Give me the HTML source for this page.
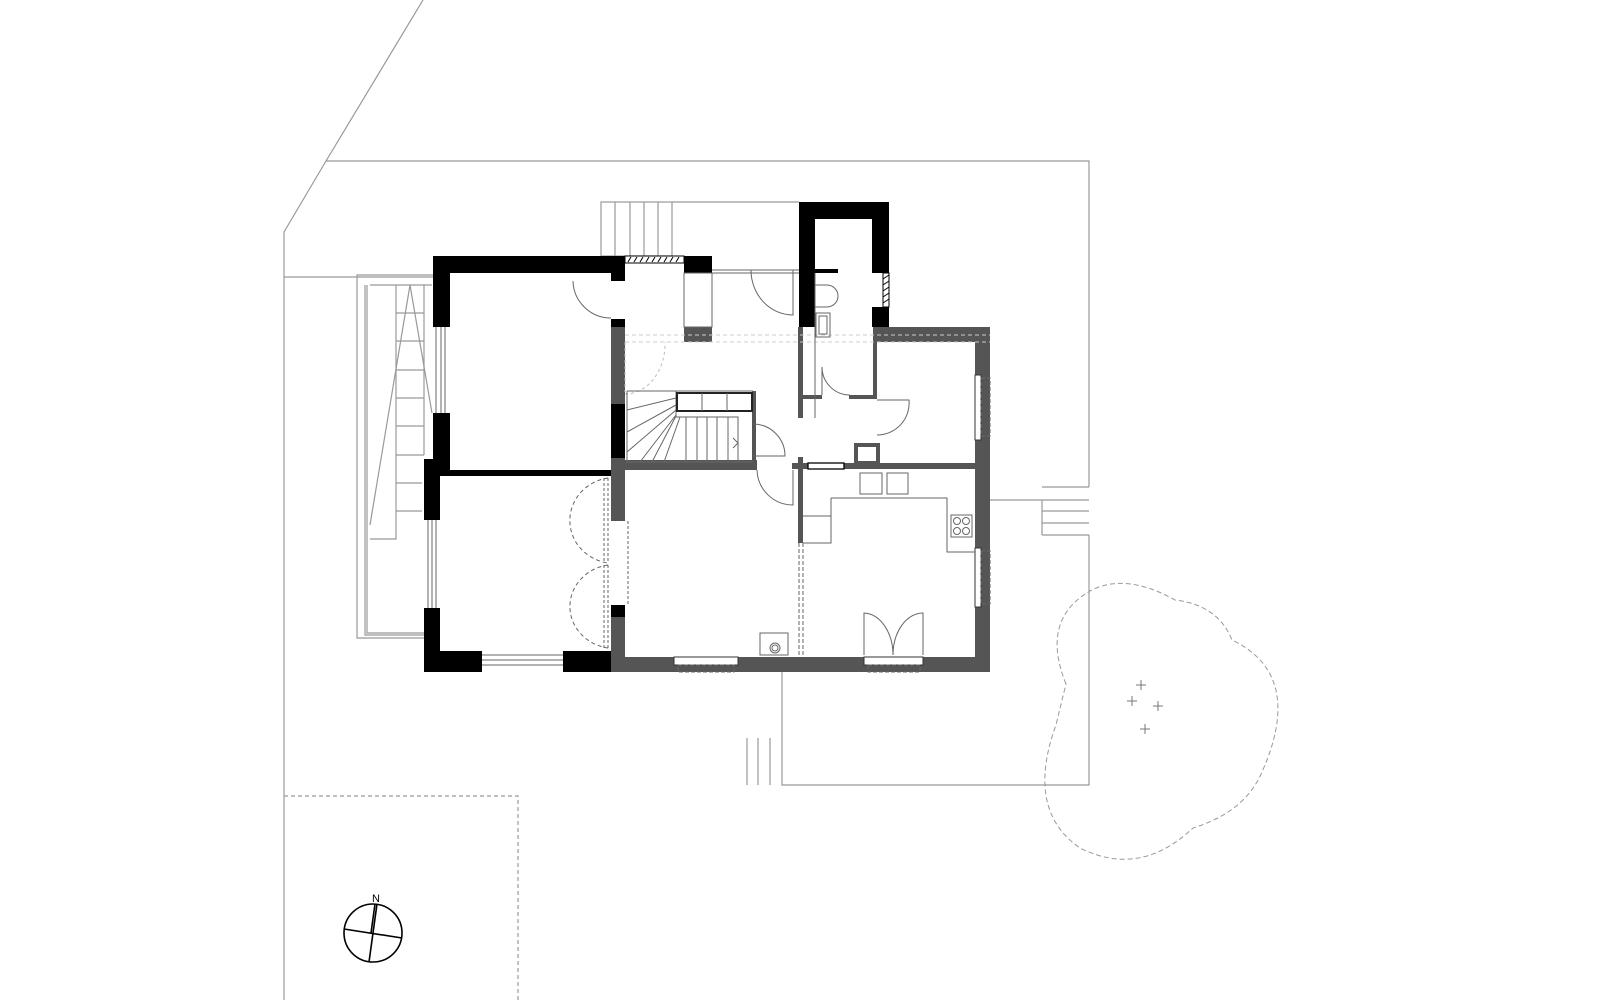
<!DOCTYPE html>
<html><head><meta charset="utf-8"><style>html,body{margin:0;padding:0;background:#fff}svg{display:block}</style></head>
<body>
<svg width="1600" height="1000" viewBox="0 0 1600 1000" xmlns="http://www.w3.org/2000/svg">
<rect width="1600" height="1000" fill="#fff"/>
<g fill="none" stroke="#999" stroke-width="1.2">
<polyline points="423,0 326,161 284,232 284,1000"/>
<polyline points="326,161 1089,161 1089,487"/>
<polyline points="1089,535 1089,785 782,785 782,672"/>
<line x1="284" y1="277" x2="433" y2="277"/>
<line x1="1042" y1="487" x2="1089" y2="487"/>
<line x1="1042" y1="500" x2="1089" y2="500"/>
<line x1="1042" y1="511" x2="1089" y2="511"/>
<line x1="1042" y1="523" x2="1089" y2="523"/>
<line x1="1042" y1="535" x2="1089" y2="535"/>
<line x1="1042" y1="500" x2="1042" y2="535"/>
<line x1="990" y1="500" x2="1042" y2="500"/>
<line x1="747" y1="738" x2="747" y2="785"/>
<line x1="758" y1="738" x2="758" y2="785"/>
<line x1="770" y1="738" x2="770" y2="785"/>
<polyline points="284,796 518,796 518,1000" stroke-dasharray="4,3"/>
<rect x="601" y="202" width="71" height="54"/>
<line x1="615" y1="202" x2="615" y2="256"/><line x1="630" y1="202" x2="630" y2="256"/>
<line x1="644" y1="202" x2="644" y2="256"/><line x1="658" y1="202" x2="658" y2="256"/>
<line x1="672" y1="202" x2="799" y2="202"/>
<polyline points="433,275 357,275 357,638 424,638"/>
<polyline points="424,635 365,635 365,285"/>
<polyline points="367,285 367,633 424,633"/>
<line x1="370" y1="285" x2="432" y2="285"/>
<polyline points="396,285 396,539 370,539"/>
<line x1="424" y1="285" x2="424" y2="455"/>
<line x1="396" y1="313" x2="424" y2="313"/><line x1="396" y1="341" x2="424" y2="341"/>
<line x1="396" y1="370" x2="424" y2="370"/><line x1="396" y1="398" x2="424" y2="398"/>
<line x1="396" y1="426" x2="424" y2="426"/><line x1="396" y1="455" x2="424" y2="455"/>
<line x1="396" y1="483" x2="422" y2="483"/><line x1="396" y1="511" x2="422" y2="511"/>
<line x1="410" y1="285" x2="370" y2="525"/><line x1="410" y1="285" x2="432" y2="413"/>
</g>
<path d="M1066,684 Q1040,620 1090,591 Q1125,572 1175,600 Q1218,605 1232,640 Q1305,675 1262,772 Q1245,812 1193,828 Q1140,878 1080,848 Q1025,810 1056,725 Q1062,700 1066,684 Z" fill="none" stroke="#999" stroke-width="1" stroke-dasharray="5,3"/>
<g stroke="#777" stroke-width="1">
<path d="M1136,685h10M1141,680v10M1127,701h10M1132,696v10M1153,706h10M1158,701v10M1140,729h10M1145,724v10"/>
</g>
<g fill="#000">
<rect x="433" y="256" width="192" height="17"/>
<rect x="433" y="256" width="17" height="71"/>
<rect x="433" y="413" width="17" height="62"/>
<rect x="424" y="459" width="16" height="61"/>
<rect x="424" y="608" width="16" height="64"/>
<rect x="424" y="651" width="58" height="21"/>
<rect x="563" y="651" width="48" height="21"/>
<rect x="440" y="470" width="171" height="6"/>
<rect x="611" y="273" width="14" height="8"/>
<rect x="611" y="319" width="14" height="8"/>
<rect x="684" y="256" width="28" height="17"/>
<rect x="611" y="404" width="14" height="54"/>
<rect x="611" y="605" width="14" height="12"/>
<rect x="799" y="202" width="90" height="17"/>
<rect x="799" y="202" width="16" height="125"/>
<rect x="815" y="269" width="23" height="4"/>
<rect x="872" y="202" width="17" height="71"/>
<rect x="872" y="307" width="17" height="20"/>
</g>
<g stroke="#000" stroke-width="1">
<rect x="625" y="256" width="59" height="7" fill="#fff"/>
<path d="M628,262l3,-5M634,262l3,-5M640,262l3,-5M646,262l3,-5M652,262l3,-5M658,262l3,-5M664,262l3,-5M670,262l3,-5M676,262l3,-5"/>
<rect x="883" y="273" width="6" height="34" fill="#fff"/>
<path d="M883,279l6,-4M883,285l6,-4M883,291l6,-4M883,297l6,-4M883,303l6,-4"/>
</g>
<g fill="#555">
<rect x="611" y="327" width="14" height="77"/>
<rect x="611" y="458" width="14" height="63"/>
<rect x="611" y="617" width="14" height="55"/>
<rect x="611" y="657" width="379" height="15"/>
<rect x="975" y="327" width="15" height="345"/>
<rect x="873" y="327" width="117" height="15"/>
<rect x="873" y="327" width="4" height="71"/>
<rect x="849" y="395" width="28" height="4"/>
<rect x="803" y="395" width="19" height="4"/>
<rect x="798" y="327" width="5" height="91"/>
<rect x="684" y="327" width="28" height="15"/>
<rect x="611" y="460" width="146" height="10"/>
<rect x="792" y="463" width="183" height="6"/>
<rect x="798" y="457" width="5" height="86"/>
<rect x="752" y="391" width="4" height="69"/>
</g>
<g fill="#fff" stroke="#333" stroke-width="1">
<rect x="674" y="657" width="64" height="8"/>
<rect x="864" y="657" width="59" height="8"/>
<rect x="975" y="375" width="6" height="65"/>
<rect x="975" y="548" width="6" height="59"/>
<rect x="808" y="463" width="36" height="6" stroke="#000" stroke-width="1.3"/>
</g>
<g fill="none" stroke="#666" stroke-width="1">
<rect x="678" y="665" width="56" height="7" stroke-dasharray="4,2"/>
<rect x="868" y="665" width="52" height="7" stroke-dasharray="4,2"/>
<rect x="981" y="378" width="9" height="58" stroke-dasharray="4,2"/>
<rect x="981" y="551" width="9" height="53" stroke-dasharray="4,2"/>
<path d="M436,327v86M441,327v86M445,327v86M428,520v88M432,520v88M436,520v88M482,655h81M482,660h81M482,665h81"/>
<path d="M573,281 A38,38 0 0 0 611,318"/>
<path d="M793,270 v45 A42,45 0 0 1 751,270"/>
<path d="M625,342 v50" stroke-dasharray="3,3" stroke="#bbb"/>
<path d="M625,394 A40,50 0 0 0 665,342" stroke-dasharray="3,3" stroke="#bbb"/>
<path d="M625,335h365M625,342h365" stroke-dasharray="4,3" stroke="#ccc"/>
<path d="M753,424 A32,32 0 0 1 785,456 H753"/>
<path d="M757,470 A36,36 0 0 0 793,505 V470"/>
<path d="M822,395 v-28 A28,28 0 0 0 850,395"/>
<path d="M877,400 h32 A32,32 0 0 1 877,435"/>
<path d="M608,478 A45,43 0 0 0 608,563" stroke-dasharray="4,3"/>
<path d="M608,565 A45,42 0 0 0 608,648" stroke-dasharray="4,3"/>
<path d="M604,478v85M608,478v85M604,565v83M608,565v83M628,521v84" stroke-dasharray="3,2"/>
<path d="M864,655v-42 A30,42 0 0 1 893,655 A30,42 0 0 1 923,613 v42"/>
<path d="M627,391h126M627,391v71h126M676,417h62v45M686,417v45M697,417v45M707,417v45M717,417v45M728,417v45"/>
<path d="M627,410 L676,398M627,432 L676,405M627,452 L676,410M640,462 L676,415M652,462 L676,416M664,462 L680,417M676,391v26"/>
<path d="M733,438 l5,5 -5,5"/>
<rect x="677" y="393" width="75" height="18" stroke="#222" stroke-width="2"/>
<path d="M702,393v18M727,393v18"/>
<rect x="684" y="273" width="28" height="54"/>
<path d="M712,270h87M712,273h87"/>
<path d="M815,273v145"/>
<path d="M815,285h12a11,11 0 0 1 0,22h-12z"/>
<rect x="816" y="313" width="14" height="24"/>
<rect x="819" y="316" width="8" height="18"/>
<rect x="856" y="445" width="22" height="18" stroke="#555" stroke-width="4"/>
<path d="M831,498h116v54h28M831,498v45h-28M803,516h28"/>
<rect x="860" y="473" width="22" height="21"/>
<rect x="887" y="473" width="21" height="21"/>
<rect x="951" y="515" width="21" height="22"/>
<circle cx="957" cy="521" r="3.5"/><circle cx="966" cy="521" r="3.5"/>
<circle cx="957" cy="531" r="3.5"/><circle cx="966" cy="531" r="3.5"/>
<path d="M799,543v114M803,543v114" stroke-dasharray="4,2"/>
<rect x="760" y="633" width="28" height="22"/>
<circle cx="775" cy="648" r="5"/><circle cx="775" cy="648" r="3"/>
</g>
<g stroke="#000" stroke-width="1.6" fill="none">
<circle cx="373" cy="933" r="29"/>
<line x1="377" y1="904" x2="369" y2="962"/>
<line x1="344" y1="929" x2="402" y2="938"/>
<line x1="375" y1="904" x2="371" y2="933"/>
</g>
<text x="372" y="902" font-family="Liberation Sans, sans-serif" font-size="11" fill="#000">N</text>
</svg>
</body></html>
